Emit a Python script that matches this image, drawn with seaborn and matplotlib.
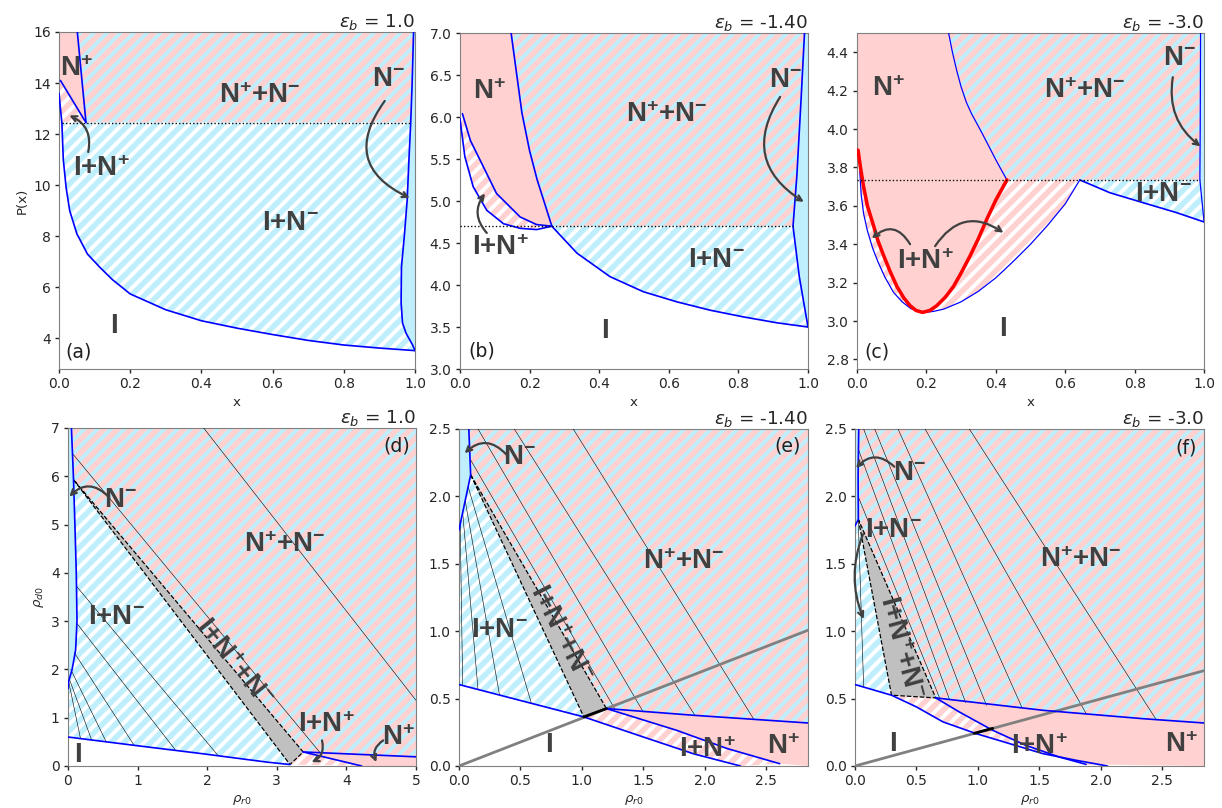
import numpy as np
import matplotlib
matplotlib.use('Agg')
import matplotlib.pyplot as plt
import seaborn as sns

# ---------------- data ----------------
# (a) eps_b = 1.0   : P(x) boundaries
a_x_IN = [0.0, 0.004, 0.008]                      # I | I+N+
a_P_IN = [13.6, 13.0, 12.45]
a_x_I = [0.008, 0.012, 0.02, 0.03, 0.05, 0.08, 0.115, 0.15, 0.2, 0.3, 0.4, 0.5, 0.6, 0.7, 0.8, 0.9, 1.0]
a_P_I = [12.45, 11.0, 9.9, 9.0, 8.1, 7.3, 6.78, 6.3, 5.74, 5.12, 4.69, 4.4, 4.15, 3.92, 3.74, 3.62, 3.52]
a_x_Ip = [0.004, 0.0758]                          # I+N+ | N+
a_P_Ip = [14.1, 12.45]
a_x_Np = [0.0514, 0.0758]                         # N+ | N++N-
a_P_Np = [16.0, 12.45]
a_x_Nm = [0.996, 0.992, 0.988, 0.983, 0.978, 0.97, 0.962, 0.961, 0.965, 0.975, 0.993, 1.0]
a_P_Nm = [16.0, 14.0, 12.45, 11.0, 9.4, 8.0, 6.8, 5.4, 4.6, 4.2, 3.75, 3.52]
a_P3 = 12.45

# (b) eps_b = -1.40
b_x_out = [0.0, 0.014, 0.038, 0.077, 0.125, 0.173, 0.22, 0.264]
b_P_out = [5.98, 5.53, 5.17, 4.89, 4.73, 4.675, 4.66, 4.70]
b_x_in = [0.007, 0.03, 0.0575, 0.105, 0.173, 0.22, 0.264]
b_P_in = [6.04, 5.72, 5.49, 5.09, 4.81, 4.72, 4.70]
b_x_Np = [0.147, 0.160, 0.178, 0.200, 0.222, 0.245, 0.264]
b_P_Np = [7.0, 6.6, 6.05, 5.6, 5.25, 4.95, 4.70]
b_x_I = [0.264, 0.336, 0.431, 0.527, 0.623, 0.719, 0.815, 0.911, 1.0]
b_P_I = [4.70, 4.38, 4.10, 3.92, 3.80, 3.70, 3.62, 3.55, 3.50]
b_x_Nm = [0.990, 0.980, 0.968, 0.957, 0.975, 1.0]
b_P_Nm = [7.0, 6.2, 5.3, 4.70, 4.1, 3.5]
b_P3 = 4.70

# (c) eps_b = -3.0
c_x_Np = [0.264, 0.275, 0.288, 0.30, 0.315, 0.33, 0.345, 0.36, 0.38, 0.40, 0.415, 0.432]
c_P_Np = [4.50, 4.40, 4.30, 4.22, 4.14, 4.08, 4.03, 3.98, 3.91, 3.84, 3.79, 3.735]
c_x_red = [0.003, 0.01, 0.019, 0.03, 0.048, 0.06, 0.077, 0.095, 0.115, 0.135, 0.153, 0.17, 0.189,
           0.21, 0.23, 0.255, 0.278, 0.30, 0.326, 0.35, 0.374, 0.40, 0.432]
c_P_red = [3.89, 3.80, 3.70, 3.60, 3.495, 3.42, 3.34, 3.26, 3.18, 3.12, 3.08, 3.055, 3.045,
           3.055, 3.08, 3.125, 3.18, 3.25, 3.34, 3.43, 3.53, 3.63, 3.735]
c_x_out = [0.008, 0.012, 0.019, 0.03, 0.045, 0.06, 0.08, 0.105, 0.13, 0.155, 0.175, 0.195, 0.22,
           0.25, 0.30, 0.35, 0.40, 0.45, 0.50, 0.55, 0.60, 0.642]
c_P_out = [3.78, 3.66, 3.56, 3.47, 3.38, 3.31, 3.23, 3.15, 3.10, 3.065, 3.05, 3.045, 3.05,
           3.062, 3.10, 3.155, 3.225, 3.31, 3.40, 3.50, 3.61, 3.735]
c_x_I = [0.642, 0.729, 0.825, 0.92, 1.0]
c_P_I = [3.735, 3.668, 3.616, 3.565, 3.516]
c_x_Nm = [0.990, 0.989, 0.988, 1.0]
c_P_Nm = [4.5, 4.0, 3.735, 3.516]
c_P3 = 3.735

# (d) eps_b = 1.0   : rho_d0 vs rho_r0
d_r_Nm = [0.05, 0.07, 0.08, 0.10, 0.12, 0.13, 0.11, 0.06, 0.01, 0.0]
d_d_Nm = [7.0, 6.3, 5.93, 5.0, 4.0, 3.0, 2.4, 2.0, 1.75, 1.6]
d_r_I = [0.0, 0.94, 1.9, 2.86, 3.19]
d_d_I = [0.60, 0.43, 0.26, 0.08, 0.03]
d_r_tri = [0.08, 3.19, 3.38]
d_d_tri = [5.93, 0.03, 0.29]
d_r_Np = [3.38, 5.0]
d_d_Np = [0.29, 0.19]
d_r_Ip = [3.38, 4.22]
d_d_Ip = [0.29, 0.0]
d_tie_r0 = [0.13, 0.13, 0.09, 0.04, 0.02, 0.01, 0.06, 1.95]
d_tie_d0 = [3.71, 2.95, 2.35, 2.0, 1.8, 1.75, 6.48, 7.0]
d_tie_r1 = [2.16, 1.55, 0.95, 0.55, 0.34, 0.18, 3.62, 5.0]
d_tie_d1 = [0.21, 0.32, 0.43, 0.50, 0.54, 0.57, 0.28, 1.36]

# (e) eps_b = -1.40
e_r_Nm = [0.08, 0.095, 0.0]
e_d_Nm = [2.5, 2.16, 1.75]
e_r_tri = [0.095, 1.016, 1.2]
e_d_tri = [2.16, 0.364, 0.426]
e_r_I = [0.0, 1.016, 1.5, 1.91, 2.29]
e_d_I = [0.604, 0.364, 0.215, 0.09, 0.0]
e_r_Ip = [1.2, 1.77, 2.18, 2.61]
e_d_Ip = [0.426, 0.265, 0.13, 0.017]
e_r_Np = [1.2, 1.91, 2.84]
e_d_Np = [0.426, 0.376, 0.319]
e_r_gray = [0.0, 2.84]
e_d_gray = [0.0, 1.007]
e_tie_r0 = [0.095, 0.155, 0.45, 0.93, 0.01, 0.03, 0.05, 0.075]
e_tie_d0 = [2.27, 2.5, 2.5, 2.5, 1.79, 1.88, 1.97, 2.07]
e_tie_r1 = [1.27, 1.5, 1.92, 2.4, 0.03, 0.155, 0.33, 0.59]
e_tie_d1 = [0.42, 0.40, 0.375, 0.345, 0.597, 0.567, 0.526, 0.462]

# (f) eps_b = -3.0
f_r_Nm = [0.03, 0.025, 0.027, 0.0]
f_d_Nm = [2.5, 2.15, 1.83, 1.78]
f_r_tri = [0.027, 0.297, 0.657]
f_d_tri = [1.83, 0.525, 0.505]
f_r_I = [0.0, 0.297, 0.5, 0.716, 0.986, 1.257, 1.527, 1.8, 2.054]
f_d_I = [0.604, 0.525, 0.438, 0.327, 0.24, 0.166, 0.092, 0.042, 0.0]
f_r_Ip = [0.657, 0.85, 1.12, 1.39, 1.66, 1.88]
f_d_Ip = [0.505, 0.40, 0.265, 0.153, 0.067, 0.012]
f_r_Np = [0.657, 1.53, 2.34, 2.84]
f_d_Np = [0.505, 0.413, 0.351, 0.319]
f_r_gray = [0.0, 2.84]
f_d_gray = [0.0, 0.707]
f_r_black = [0.97, 1.12]
f_d_black = [0.242, 0.279]
f_tie_r0 = [0.025, 0.027, 0.07, 0.16, 0.35, 0.57, 0.93, 0.027]
f_tie_d0 = [2.0, 2.35, 2.5, 2.5, 2.5, 2.5, 2.5, 1.8]
f_tie_r1 = [0.69, 0.77, 0.9, 1.07, 1.36, 1.88, 2.45, 0.07]
f_tie_d1 = [0.50, 0.49, 0.47, 0.45, 0.43, 0.39, 0.345, 0.59]

# ---------------- style ----------------
PINK = '#ffd1d1'
BLUE = '#bfeffd'
TXT = '#404040'

sns.set_theme(style='ticks')
plt.rcParams['font.family'] = ['DejaVu Sans']
plt.rcParams['hatch.linewidth'] = 5.0
plt.rcParams['axes.edgecolor'] = '#808080'
plt.rcParams['axes.linewidth'] = 1.0
plt.rcParams['xtick.major.size'] = 4
plt.rcParams['ytick.major.size'] = 4
plt.rcParams['xtick.labelsize'] = 12.5
plt.rcParams['ytick.labelsize'] = 12.5
plt.rcParams['axes.labelsize'] = 12
plt.rcParams['mathtext.rm'] = 'Liberation Sans:bold'
plt.rcParams['mathtext.it'] = 'Liberation Sans:bold'
plt.rcParams['mathtext.bf'] = 'Liberation Sans:bold'

DPI = 80
fig = plt.figure(figsize=(1222 / DPI, 808 / DPI), dpi=DPI)
axa = fig.add_axes([0.0483, 0.5433, 0.2913, 0.4171])
axb = fig.add_axes([0.3764, 0.5433, 0.2848, 0.4158])
axc = fig.add_axes([0.7013, 0.5433, 0.2840, 0.4158])
axd = fig.add_axes([0.0556, 0.0520, 0.2848, 0.4183])
axe = fig.add_axes([0.3756, 0.0520, 0.2856, 0.4171])
axf = fig.add_axes([0.6997, 0.0520, 0.2856, 0.4171])


def region(ax, xs, ys, kind):
    face, hatch = {'N+': (PINK, None), 'N-': (BLUE, None), 'NN': (BLUE, PINK),
                   'I+': ('white', PINK), 'I-': ('white', BLUE)}[kind]
    if hatch is None:
        ax.fill(xs, ys, facecolor=face, edgecolor=face, linewidth=0, zorder=1)
    else:
        ax.fill(xs, ys, facecolor=face, edgecolor=hatch, hatch='//', linewidth=0, zorder=1)


def tri(ax, xs, ys):
    ax.fill(xs, ys, facecolor='#c0c0c0', edgecolor='black', linestyle='--', linewidth=1.1, zorder=3)


def curve(ax, xs, ys, color='blue', lw=1.5):
    sns.lineplot(x=xs, y=ys, ax=ax, color=color, linewidth=lw, sort=False, estimator=None, zorder=5)


def ties(ax, r0, d0, r1, d1):
    for i in range(len(r0)):
        ax.plot([r0[i], r1[i]], [d0[i], d1[i]], color='black', lw=0.5, zorder=4)


def lab(ax, x, y, s, rot=0):
    ax.text(x, y, s, fontsize=25, fontweight='bold', family='Liberation Sans', math_fontfamily='custom',
            color=TXT, ha='center', va='center', rotation=rot, rotation_mode='anchor', zorder=10)


def arrow(ax, tail, head, rad):
    ax.annotate('', xy=head, xytext=tail, zorder=10,
                arrowprops=dict(arrowstyle='->', color=TXT, lw=2, mutation_scale=12,
                                shrinkA=0, shrinkB=0, connectionstyle=f'arc3,rad={rad}'))


NP, NM = 'N$^{+}$', 'N$^{-}$'
NPNM = 'N$^{+}$+N$^{-}$'
INP, INM = 'I+N$^{+}$', 'I+N$^{-}$'
INPNM = 'I+N$^{+}$+N$^{-}$'
r_ = np.r_

# ---------------- (a) ----------------
ax = axa
k = a_P_Nm.index(a_P3)
region(ax, r_[a_x_IN, a_x_Ip[::-1], 0], r_[a_P_IN, a_P_Ip[::-1], a_P_Ip[0]], 'I+')
region(ax, r_[0, a_x_Np, a_x_Ip[::-1], 0], r_[16, a_P_Np, a_P_Ip[::-1], a_P_Ip[0]], 'N+')
region(ax, r_[a_x_Np, a_x_Nm[:k + 1][::-1]], r_[a_P_Np, a_P_Nm[:k + 1][::-1]], 'NN')
region(ax, r_[a_x_I, a_x_Nm[k:][::-1]], r_[a_P_I, a_P_Nm[k:][::-1]], 'I-')
region(ax, r_[a_x_Nm, 1, 1], r_[a_P_Nm, a_P_Nm[-1], 16], 'N-')
for xs, ys in [(a_x_IN, a_P_IN), (a_x_I, a_P_I), (a_x_Ip, a_P_Ip), (a_x_Np, a_P_Np), (a_x_Nm, a_P_Nm)]:
    curve(ax, xs, ys)
ax.plot([a_x_IN[-1], a_x_Nm[k]], [a_P3, a_P3], color='black', ls=':', lw=1.2, zorder=6)
ax.set_xlim(0, 1)
ax.set_ylim(2.8, 16)
ax.set_yticks(np.arange(4, 17, 2))
lab(ax, 0.05, 14.55, NP)
lab(ax, 0.565, 13.5, NPNM)
lab(ax, 0.925, 14.15, NM)
lab(ax, 0.12, 10.65, INP)
lab(ax, 0.65, 8.5, INM)
lab(ax, 0.155, 4.5, 'I')
arrow(ax, (0.082, 11.3), (0.029, 12.73), 0.4)
arrow(ax, (0.915, 13.3), (0.985, 9.5), 0.6)
ax.set_ylabel('P(x)')
ax.text(0.056, 3.45, '(a)', fontsize=17, ha='center', va='center', color='#202020')
ax.set_title(r'$\varepsilon_b$ = 1.0', loc='right', fontsize=16.5, pad=4)

# ---------------- (b) ----------------
ax = axb
k = b_P_Nm.index(b_P3)
region(ax, r_[b_x_out, b_x_in[::-1]], r_[b_P_out, b_P_in[::-1]], 'I+')
region(ax, r_[0, 0, b_x_in, b_x_Np[::-1]], r_[7, b_P_in[0], b_P_in, b_P_Np[::-1]], 'N+')
region(ax, r_[b_x_Np, b_x_Nm[:k + 1][::-1]], r_[b_P_Np, b_P_Nm[:k + 1][::-1]], 'NN')
region(ax, r_[b_x_I, b_x_Nm[k:][::-1]], r_[b_P_I, b_P_Nm[k:][::-1]], 'I-')
region(ax, r_[b_x_Nm, 1, 1], r_[b_P_Nm, b_P_Nm[-1], 7], 'N-')
for xs, ys in [(b_x_out, b_P_out), (b_x_in, b_P_in), (b_x_Np, b_P_Np), (b_x_I, b_P_I), (b_x_Nm, b_P_Nm)]:
    curve(ax, xs, ys)
ax.plot([0, b_x_Nm[k]], [b_P3, b_P3], color='black', ls=':', lw=1.2, zorder=6)
ax.set_xlim(0, 1)
ax.set_ylim(3.0, 7.0)
ax.set_yticks(np.arange(3.0, 7.01, 0.5))
ax.yaxis.set_major_formatter('{x:.1f}')
lab(ax, 0.086, 6.3, NP)
lab(ax, 0.594, 6.02, NPNM)
lab(ax, 0.935, 6.44, NM)
lab(ax, 0.115, 4.44, INP)
lab(ax, 0.738, 4.3, INM)
lab(ax, 0.417, 3.45, 'I')
arrow(ax, (0.077, 4.62), (0.072, 5.09), -0.4)
arrow(ax, (0.92, 6.24), (0.988, 4.99), 0.5)
ax.text(0.062, 3.21, '(b)', fontsize=17, ha='center', va='center', color='#202020')
ax.set_title(r'$\varepsilon_b$ = -1.40', loc='right', fontsize=16.5, pad=4)

# ---------------- (c) ----------------
ax = axc
k = c_P_Nm.index(c_P3)
region(ax, r_[c_x_out, c_x_red[::-1]], r_[c_P_out, c_P_red[::-1]], 'I+')
region(ax, r_[0, c_x_red, c_x_Np[::-1]], r_[4.5, c_P_red, c_P_Np[::-1]], 'N+')
region(ax, r_[c_x_Np, c_x_Nm[:k + 1][::-1]], r_[c_P_Np, c_P_Nm[:k + 1][::-1]], 'NN')
region(ax, r_[c_x_I, c_x_Nm[k:][::-1]], r_[c_P_I, c_P_Nm[k:][::-1]], 'I-')
region(ax, r_[c_x_Nm, 1, 1], r_[c_P_Nm, c_P_Nm[-1], 4.5], 'N-')
for xs, ys in [(c_x_Np, c_P_Np), (c_x_out, c_P_out), (c_x_Nm, c_P_Nm)]:
    curve(ax, xs, ys, lw=1.1)
curve(ax, c_x_I, c_P_I)
curve(ax, c_x_red, c_P_red, color='red', lw=3.2)
ax.plot([0, c_x_Nm[k]], [c_P3, c_P3], color='black', ls=':', lw=1.2, zorder=6)
ax.set_xlim(0, 1)
ax.set_ylim(2.75, 4.5)
ax.set_yticks(np.arange(2.8, 4.41, 0.2))
ax.yaxis.set_major_formatter('{x:.1f}')
lab(ax, 0.091, 4.21, NP)
lab(ax, 0.657, 4.196, NPNM)
lab(ax, 0.93, 4.37, NM)
lab(ax, 0.197, 3.31, INP)
lab(ax, 0.882, 3.66, INM)
lab(ax, 0.42, 2.96, 'I')
arrow(ax, (0.91, 4.27), (0.99, 3.91), 0.3)
arrow(ax, (0.153, 3.4), (0.043, 3.43), 0.6)
arrow(ax, (0.225, 3.39), (0.422, 3.46), -0.5)
ax.text(0.058, 2.84, '(c)', fontsize=17, ha='center', va='center', color='#202020')
ax.set_title(r'$\varepsilon_b$ = -3.0', loc='right', fontsize=16.5, pad=4)

for ax in (axa, axb, axc):
    ax.set_xticks(np.arange(0, 1.01, 0.2))
    ax.xaxis.set_major_formatter('{x:.1f}')
    ax.set_xlabel('x')

# ---------------- (d) ----------------
ax = axd
region(ax, r_[0, d_r_Nm], r_[7, d_d_Nm], 'N-')
region(ax, r_[d_r_Nm[2:], d_r_I], r_[d_d_Nm[2:], d_d_I], 'I-')
region(ax, r_[d_r_Nm[:3], d_r_tri[2], d_r_Np[1], 5.0], r_[d_d_Nm[:3], d_d_tri[2], d_d_Np[1], 7.0], 'NN')
region(ax, r_[d_r_Np, 5.0, d_r_Ip[1]], r_[d_d_Np, 0, d_d_Ip[1]], 'N+')
region(ax, r_[d_r_tri[1:], d_r_Ip[1]], r_[d_d_tri[1:], d_d_Ip[1]], 'I+')
tri(ax, d_r_tri, d_d_tri)
ties(ax, d_tie_r0, d_tie_d0, d_tie_r1, d_tie_d1)
for xs, ys in [(d_r_Nm, d_d_Nm), (d_r_I, d_d_I), (d_r_Np, d_d_Np), (d_r_Ip, d_d_Ip)]:
    curve(ax, xs, ys)
ax.set_xlim(0, 5)
ax.set_ylim(0, 7)
ax.set_xticks(range(0, 6))
ax.set_yticks(range(0, 8))
lab(ax, 0.75, 5.51, NM)
lab(ax, 3.12, 4.58, NPNM)
lab(ax, 0.70, 3.09, INM)
lab(ax, 2.38, 2.12, INPNM, rot=-51)
lab(ax, 3.72, 0.84, INP)
lab(ax, 4.75, 0.57, NP)
lab(ax, 0.15, 0.22, 'I')
arrow(ax, (0.58, 5.58), (0.02, 5.58), 0.5)
arrow(ax, (3.65, 0.53), (3.5, 0.08), -0.4)
arrow(ax, (4.53, 0.53), (4.43, 0.08), 0.4)
ax.text(4.72, 6.62, '(d)', fontsize=17, ha='center', va='center', color='#202020')
ax.set_title(r'$\varepsilon_b$ = 1.0', loc='right', fontsize=16.5, pad=4)
ax.set_ylabel(r'$\rho_{d0}$')

# ---------------- (e) ----------------
ax = axe
region(ax, r_[0, e_r_Nm], r_[2.5, e_d_Nm], 'N-')
region(ax, r_[e_r_Nm[1:], e_r_I[:2]], r_[e_d_Nm[1:], e_d_I[:2]], 'I-')
region(ax, r_[e_r_Nm[:2], e_r_Np, 2.84], r_[e_d_Nm[:2], e_d_Np, 2.5], 'NN')
region(ax, r_[e_r_Np, 2.84, e_r_Ip[::-1]], r_[e_d_Np, 0, e_d_Ip[::-1]], 'N+')
region(ax, r_[e_r_tri[1:], e_r_Ip[1:], e_r_I[1:][::-1]], r_[e_d_tri[1:], e_d_Ip[1:], e_d_I[1:][::-1]], 'I+')
tri(ax, e_r_tri, e_d_tri)
ties(ax, e_tie_r0, e_tie_d0, e_tie_r1, e_tie_d1)
ax.plot(e_r_gray, e_d_gray, color='gray', lw=2.5, zorder=4)
for xs, ys in [(e_r_Nm, e_d_Nm), (e_r_I, e_d_I), (e_r_Np, e_d_Np), (e_r_Ip, e_d_Ip)]:
    curve(ax, xs, ys)
ax.plot(e_r_tri[1:], e_d_tri[1:], color='black', lw=2.5, zorder=6)
lab(ax, 0.495, 2.29, NM)
lab(ax, 1.83, 1.51, NPNM)
lab(ax, 0.33, 1.01, INM)
lab(ax, 0.82, 0.98, INPNM, rot=-63)
lab(ax, 0.73, 0.153, 'I')
lab(ax, 2.02, 0.116, INP)
lab(ax, 2.64, 0.14, NP)
arrow(ax, (0.386, 2.31), (0.046, 2.32), 0.5)
ax.text(2.67, 2.37, '(e)', fontsize=17, ha='center', va='center', color='#202020')
ax.set_title(r'$\varepsilon_b$ = -1.40', loc='right', fontsize=16.5, pad=4)

# ---------------- (f) ----------------
ax = axf
region(ax, r_[0, f_r_Nm], r_[2.5, f_d_Nm], 'N-')
region(ax, r_[f_r_Nm[2:], f_r_I[:2]], r_[f_d_Nm[2:], f_d_I[:2]], 'I-')
region(ax, r_[f_r_Nm[:3], f_r_Np, 2.84], r_[f_d_Nm[:3], f_d_Np, 2.5], 'NN')
region(ax, r_[f_r_Np, 2.84, f_r_Ip[::-1]], r_[f_d_Np, 0, f_d_Ip[::-1]], 'N+')
region(ax, r_[f_r_tri[1:], f_r_Ip[1:], f_r_I[1:][::-1]], r_[f_d_tri[1:], f_d_Ip[1:], f_d_I[1:][::-1]], 'I+')
tri(ax, f_r_tri, f_d_tri)
ties(ax, f_tie_r0, f_tie_d0, f_tie_r1, f_tie_d1)
ax.plot(f_r_gray, f_d_gray, color='gray', lw=2.5, zorder=4)
for xs, ys in [(f_r_Nm, f_d_Nm), (f_r_I, f_d_I), (f_r_Np, f_d_Np), (f_r_Ip, f_d_Ip)]:
    curve(ax, xs, ys)
ax.plot(f_r_black, f_d_black, color='black', lw=2.5, zorder=6)
lab(ax, 0.446, 2.17, NM)
lab(ax, 0.31, 1.75, INM)
lab(ax, 1.84, 1.53, NPNM)
lab(ax, 0.365, 0.88, INPNM, rot=-75)
lab(ax, 0.305, 0.166, 'I')
lab(ax, 1.5, 0.14, INP)
lab(ax, 2.66, 0.153, NP)
arrow(ax, (0.32, 2.22), (0.008, 2.21), 0.5)
arrow(ax, (0.065, 1.72), (0.07, 1.09), 0.2)
ax.text(2.69, 2.36, '(f)', fontsize=17, ha='center', va='center', color='#202020')
ax.set_title(r'$\varepsilon_b$ = -3.0', loc='right', fontsize=16.5, pad=4)

for ax in (axe, axf):
    ax.set_xlim(0, 2.84)
    ax.set_ylim(0, 2.5)
    ax.set_xticks(np.arange(0, 2.51, 0.5))
    ax.set_yticks(np.arange(0, 2.51, 0.5))
    ax.xaxis.set_major_formatter('{x:.1f}')
    ax.yaxis.set_major_formatter('{x:.1f}')
for ax in (axd, axe, axf):
    ax.set_xlabel(r'$\rho_{r0}$')

fig.savefig('out.png', dpi=DPI)
